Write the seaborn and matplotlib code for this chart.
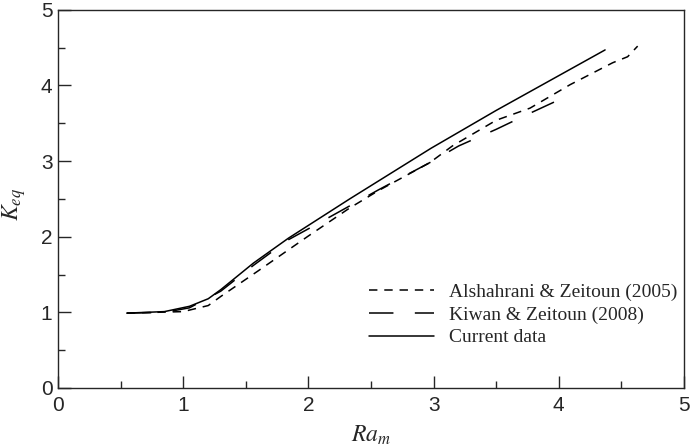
import numpy as np
import pandas as pd
import seaborn as sns
import matplotlib
matplotlib.use("Agg")
import matplotlib.pyplot as plt
from matplotlib.ticker import MultipleLocator

# values
als_x = [0.55, 1.0, 1.2, 1.3, 1.6, 2.0, 2.33, 2.56, 2.97, 3.15, 3.5, 3.77, 4.09, 4.43, 4.55, 4.63]
als_y = [0.99, 1.01, 1.09, 1.21, 1.55, 2.01, 2.38, 2.61, 2.98, 3.20, 3.54, 3.70, 4.01, 4.30, 4.38, 4.52]

kiw_x = [0.55, 0.85, 1.05, 1.3, 1.56, 1.84, 2.05, 2.3, 2.56, 2.97, 3.2, 3.5, 3.74, 4.08]
kiw_y = [0.99, 1.00, 1.06, 1.28, 1.62, 1.96, 2.15, 2.38, 2.62, 2.98, 3.20, 3.42, 3.61, 3.87]

cur_x = [0.55, 0.85, 1.05, 1.2, 1.3, 1.56, 1.84, 2.33, 2.98, 3.5, 4.37]
cur_y = [0.99, 1.01, 1.08, 1.18, 1.30, 1.65, 1.98, 2.50, 3.17, 3.67, 4.47]

labels = ["Alshahrani & Zeitoun (2005)", "Kiwan & Zeitoun (2008)", "Current data"]

sns.set_style("ticks", {"xtick.direction": "in", "ytick.direction": "in"})
plt.rcParams["font.family"] = ["Liberation Sans", "DejaVu Sans"]
plt.rcParams["mathtext.fontset"] = "stix"

fig = plt.figure(figsize=(6.92, 4.47), dpi=100)
ax = fig.add_axes([0.0838, 0.132, 0.9046, 0.846])

series = [
    (als_x, als_y, labels[0], (0, (5.5, 4.5))),
    (kiw_x, kiw_y, labels[1], (0, (16, 14))),
    (cur_x, cur_y, labels[2], "-"),
]
for xs, ys, lab, ls in series:
    df = pd.DataFrame({"Ra": xs, "K": ys})
    sns.lineplot(data=df, x="Ra", y="K", ax=ax, color="black", linewidth=1.1,
                 linestyle=ls, label=lab, sort=False, estimator=None)

ax.set_xlim(0, 5)
ax.set_ylim(0, 5)
ax.xaxis.set_major_locator(MultipleLocator(1))
ax.xaxis.set_minor_locator(MultipleLocator(0.5))
ax.yaxis.set_major_locator(MultipleLocator(1))
ax.yaxis.set_minor_locator(MultipleLocator(0.5))
ax.tick_params(which="major", length=9, width=1, labelsize=15)
ax.tick_params(axis="x", which="major", pad=6)
ax.tick_params(axis="y", which="major", pad=4)
ax.tick_params(which="minor", length=5, width=1)
for s in ax.spines.values():
    s.set_linewidth(1.0)

ax.set_xlabel("$Ra_m$", fontsize=17)
ax.set_ylabel("$K_{eq}$", fontsize=17)
ax.xaxis.set_label_coords(0.5, -0.094)
ax.yaxis.set_label_coords(-0.048, 0.485)

ax.legend(loc="center left", bbox_to_anchor=(0.485, 0.193), frameon=False,
          prop={"family": "Liberation Serif", "size": 14}, handlelength=3.3,
          handletextpad=0.8, labelspacing=0.25, borderaxespad=0)

fig.savefig("out.png", dpi=100)
